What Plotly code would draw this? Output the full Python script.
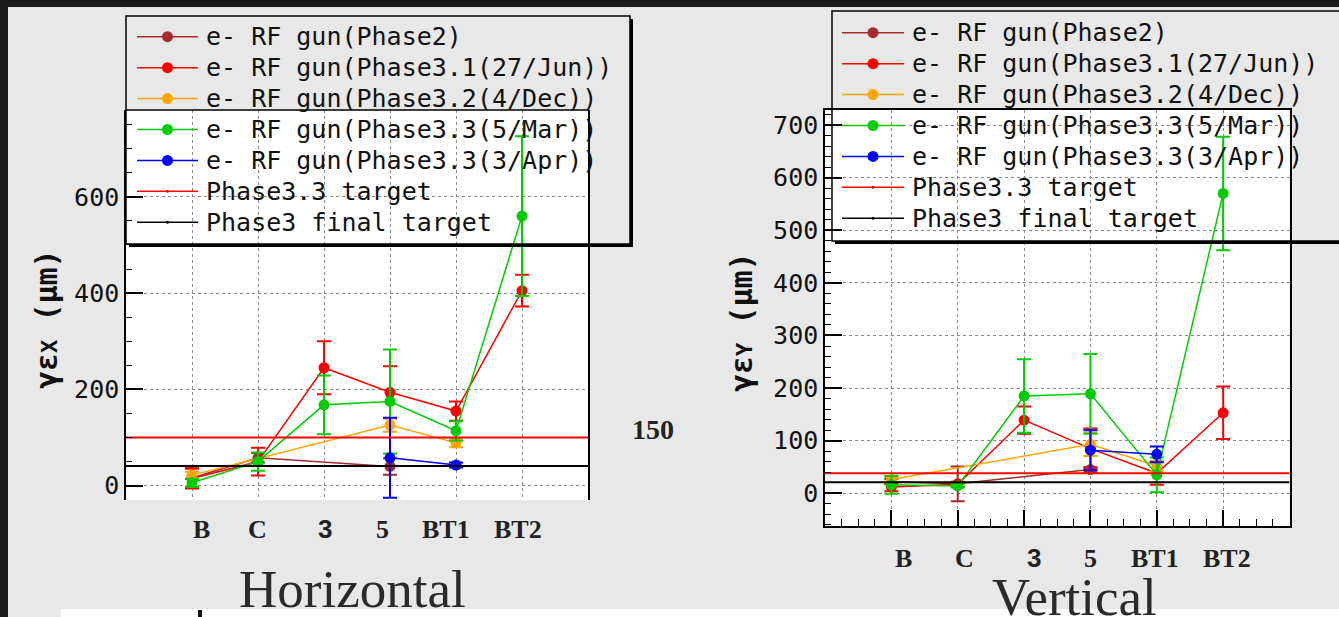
import plotly.graph_objects as go

W, H = 1339, 617

# ---------------- data ----------------
categories = ["B", "C", "3", "5", "BT1", "BT2"]

series_names = [
    "e- RF gun(Phase2)",
    "e- RF gun(Phase3.1(27/Jun))",
    "e- RF gun(Phase3.2(4/Dec))",
    "e- RF gun(Phase3.3(5/Mar))",
    "e- RF gun(Phase3.3(3/Apr))",
]
target_names = ["Phase3.3 target", "Phase3 final target"]

# Horizontal emittance (um)
h_phase2 = [16, 58, None, 40, None, None]
h_phase2_err = [22, 10, None, 17, None, None]
h_phase31 = [15, 50, 245, 194, 155, 405]
h_phase31_err = [20, 29, 55, 54, 20, 33]
h_phase32 = [22, None, None, 126, 89, None]
h_phase32_err = [7, None, None, 14, 9, None]
h_phase33_mar = [6, 50, 168, 175, 114, 560]
h_phase33_mar_err = [8, 19, 61, 108, 20, 166]
h_phase33_apr = [None, None, None, 58, 43, None]
h_phase33_apr_err = [None, None, None, 83, 5, None]
h_targets = [100, 41]

# Vertical emittance (um)
v_phase2 = [22, 18, None, 45, None, None]
v_phase2_err = [5, 33, None, 5, None, None]
v_phase31 = [12, 17, 139, 85, 38, 153]
v_phase31_err = [8, 5, 26, 38, 22, 50]
v_phase32 = [26, None, None, 93, 52, None]
v_phase32_err = [5, None, None, 22, 10, None]
v_phase33_mar = [16, 14, 185, 189, 35, 570]
v_phase33_mar_err = [17, 3, 70, 76, 33, 108]
v_phase33_apr = [None, None, None, 82, 74, None]
v_phase33_apr_err = [None, None, None, 38, 15, None]
v_targets = [38, 21]

# ---------------- styles ----------------
series_colors = ["#a52a2a", "#ff0000", "#ffa500", "#00cc00", "#0000ff"]
target_colors = ["#ff0000", "#000000"]
BG = "#e8e8e8"
MONO = "DejaVu Sans Mono"
SERIF = "Liberation Serif"
label_fonts = [SERIF, SERIF, "Liberation Sans", SERIF, SERIF, SERIF]


def px(x):
    return x / W


def py(y):
    return 1 - y / H


fig = go.Figure()
positions = [i + 1 for i in range(len(categories))]


def add_series(name, values, errors, color, xa, ya):
    xs = [p for p, v in zip(positions, values) if v is not None]
    ys = [v for v in values if v is not None]
    es = [e for v, e in zip(values, errors) if v is not None]
    fig.add_trace(go.Scatter(
        x=xs, y=ys, name=name, mode="lines+markers",
        line=dict(color=color, width=1.5),
        marker=dict(color=color, size=11),
        error_y=dict(type="data", array=es, visible=True, color=color,
                     thickness=2, width=7),
        xaxis=xa, yaxis=ya, showlegend=False))


def add_target(name, value, color, xa, ya):
    fig.add_trace(go.Scatter(
        x=[0, len(categories) + 1], y=[value, value], name=name, mode="lines",
        line=dict(color=color, width=2), xaxis=xa, yaxis=ya,
        showlegend=False))


h_sets = [(h_phase2, h_phase2_err), (h_phase31, h_phase31_err),
          (h_phase32, h_phase32_err), (h_phase33_mar, h_phase33_mar_err),
          (h_phase33_apr, h_phase33_apr_err)]
v_sets = [(v_phase2, v_phase2_err), (v_phase31, v_phase31_err),
          (v_phase32, v_phase32_err), (v_phase33_mar, v_phase33_mar_err),
          (v_phase33_apr, v_phase33_apr_err)]

for (vals, errs), name, col in zip(h_sets, series_names, series_colors):
    add_series(name, vals, errs, col, "x", "y")
for t, name, col in zip(h_targets, target_names, target_colors):
    add_target(name, t, col, "x", "y")
for (vals, errs), name, col in zip(v_sets, series_names, series_colors):
    add_series(name, vals, errs, col, "x2", "y2")
for t, name, col in zip(v_targets, target_names, target_colors):
    add_target(name, t, col, "x2", "y2")

grid = dict(showgrid=True, gridcolor="#8a8a8a", griddash="3px,3px", gridwidth=1)
tickfont = dict(family=MONO, size=25, color="#111")

fig.update_layout(
    width=W, height=H, margin=dict(l=0, r=0, t=0, b=0),
    paper_bgcolor=BG, plot_bgcolor="white", showlegend=False,
    xaxis=dict(domain=[px(126), px(588)], range=[0, 7], tick0=0, dtick=1,
               showticklabels=False, ticks="", zeroline=False, showline=False,
               anchor="y", **grid),
    yaxis=dict(domain=[py(500), py(110)], range=[-29.7, 780.3], tick0=0, dtick=200,
               ticks="inside", ticklen=17, tickwidth=1.5, tickcolor="black",
               minor=dict(ticks="inside", ticklen=6, dtick=50, tick0=0,
                          tickcolor="black", tickwidth=1, showgrid=False),
               showline=True, linecolor="black", linewidth=1.5, mirror=True,
               zeroline=False, tickfont=tickfont, anchor="x", **grid),
    xaxis2=dict(domain=[px(825), px(1289.5)], range=[0, 7], tick0=0, dtick=1,
                showticklabels=False, ticks="inside", ticklen=16, tickwidth=1.5,
                tickcolor="black",
                minor=dict(ticks="inside", ticklen=7, dtick=0.25, tick0=0,
                           tickcolor="black", tickwidth=1, showgrid=False),
                showline=True, linecolor="black", linewidth=1.5, mirror=True,
                zeroline=False, anchor="y2", **grid),
    yaxis2=dict(domain=[py(526), py(110)], range=[-62.2, 728.7], tick0=0, dtick=100,
                ticks="inside", ticklen=17, tickwidth=1.5, tickcolor="black",
                minor=dict(ticks="inside", ticklen=6, dtick=20, tick0=0,
                           tickcolor="black", tickwidth=1, showgrid=False),
                showline=True, linecolor="black", linewidth=1.5, mirror=True,
                zeroline=False, tickfont=tickfont, anchor="x2", **grid),
)

shapes = []
annotations = []


def pline(x0, y0, x1, y1, color, width):
    shapes.append(dict(type="line", xref="paper", yref="paper",
                       x0=px(x0), y0=py(y0), x1=px(x1), y1=py(y1),
                       line=dict(color=color, width=width)))


def prect(x0, y0, x1, y1, fill, line_color=None, lw=0):
    shapes.append(dict(type="rect", xref="paper", yref="paper",
                       x0=px(x0), y0=py(y0), x1=px(x1), y1=py(y1),
                       fillcolor=fill, line=dict(color=line_color or fill, width=lw),
                       layer="above"))


# top frame line of the left (cropped) plot
shapes.append(dict(type="line", xref="x domain", yref="y domain", x0=0, x1=1,
                   y0=1, y1=1, line=dict(color="black", width=1.5)))

# dark screen border and white strip at the bottom
prect(0, 0, 8, H, "#1b1b1b")
prect(0, 0, W, 7, "#1b1b1b")
prect(61, 609, W, H, "white")
prect(198, 610, 202, H, "#111")


def draw_legend(box, line_x0, line_x1, text_x, y_first, step):
    bx0, by0, bx1, by1 = box
    shapes.append(dict(type="rect", xref="paper", yref="paper",
                       x0=px(bx0), y0=py(by0), x1=px(bx1), y1=py(by1),
                       line=dict(color="black", width=1.5), fillcolor="rgba(0,0,0,0)",
                       layer="above"))
    pline(bx0 + 3, by1 + 1.5, bx1 + 3, by1 + 1.5, "black", 3)
    pline(bx1 + 1.5, by0 + 3, bx1 + 1.5, by1 + 3, "black", 3)
    names = series_names + target_names
    colors = series_colors + target_colors
    for i, (nm, col) in enumerate(zip(names, colors)):
        yy = y_first + i * step
        pline(line_x0, yy, line_x1, yy, col, 1.5)
        r = 5.5 if i < len(series_names) else 1.5
        xm = (line_x0 + line_x1) / 2
        shapes.append(dict(type="circle", xref="paper", yref="paper",
                           x0=px(xm - r), x1=px(xm + r), y0=py(yy - r), y1=py(yy + r),
                           fillcolor=col, line=dict(color=col, width=0), layer="above"))
        annotations.append(dict(text=nm, xref="paper", yref="paper", x=px(text_x),
                                y=py(yy), xanchor="left", yanchor="middle",
                                showarrow=False, font=dict(family=MONO, size=25, color="#111")))


draw_legend((126, 16, 630, 244), 137, 198, 204, 36.7, 30.93)
draw_legend((832, 11, 1350, 241), 842, 904, 910, 32.7, 30.93)

# category labels under each panel
h_label_shift = [9, -1, 1, -8, -10, -4]
v_label_shift = [12, 7, 10, 0, -2, 4]
for cat, p, s, fam in zip(categories, positions, h_label_shift, label_fonts):
    annotations.append(dict(text="<b>%s</b>" % cat, xref="x", yref="paper", x=p, xshift=s,
                            y=py(529), xanchor="center", yanchor="middle", showarrow=False,
                            font=dict(family=fam, size=26, color="#222")))
for cat, p, s, fam in zip(categories, positions, v_label_shift, label_fonts):
    annotations.append(dict(text="<b>%s</b>" % cat, xref="x2", yref="paper", x=p, xshift=s,
                            y=py(558), xanchor="center", yanchor="middle", showarrow=False,
                            font=dict(family=fam, size=26, color="#222")))

# axis titles
annotations.append(dict(text="<b>γε<span style='font-size:22px'>X</span> (μm)</b>",
                        xref="paper", yref="paper", x=px(46), y=py(319), textangle=-90,
                        xanchor="center", yanchor="middle", showarrow=False,
                        font=dict(family=MONO, size=30, color="#111")))
annotations.append(dict(text="<b>γε<span style='font-size:22px'>Y</span> (μm)</b>",
                        xref="paper", yref="paper", x=px(741), y=py(322), textangle=-90,
                        xanchor="center", yanchor="middle", showarrow=False,
                        font=dict(family=MONO, size=30, color="#111")))

# panel captions
annotations.append(dict(text="Horizontal", xref="paper", yref="paper", x=px(353), y=py(589),
                        xanchor="center", yanchor="middle", showarrow=False,
                        font=dict(family=SERIF, size=53, color="#2a2a2a")))
annotations.append(dict(text="Vertical", xref="paper", yref="paper", x=px(1074), y=py(597),
                        xanchor="center", yanchor="middle", showarrow=False,
                        font=dict(family=SERIF, size=53, color="#2a2a2a")))
annotations.append(dict(text="<b>150</b>", xref="paper", yref="paper", x=px(653), y=py(429),
                        xanchor="center", yanchor="middle", showarrow=False,
                        font=dict(family=SERIF, size=28, color="#222")))

fig.update_layout(shapes=shapes, annotations=annotations)
fig.write_html("out.html", config={"displayModeBar": False},
               post_script="document.body.style.margin='0';document.body.style.overflow='hidden';")
